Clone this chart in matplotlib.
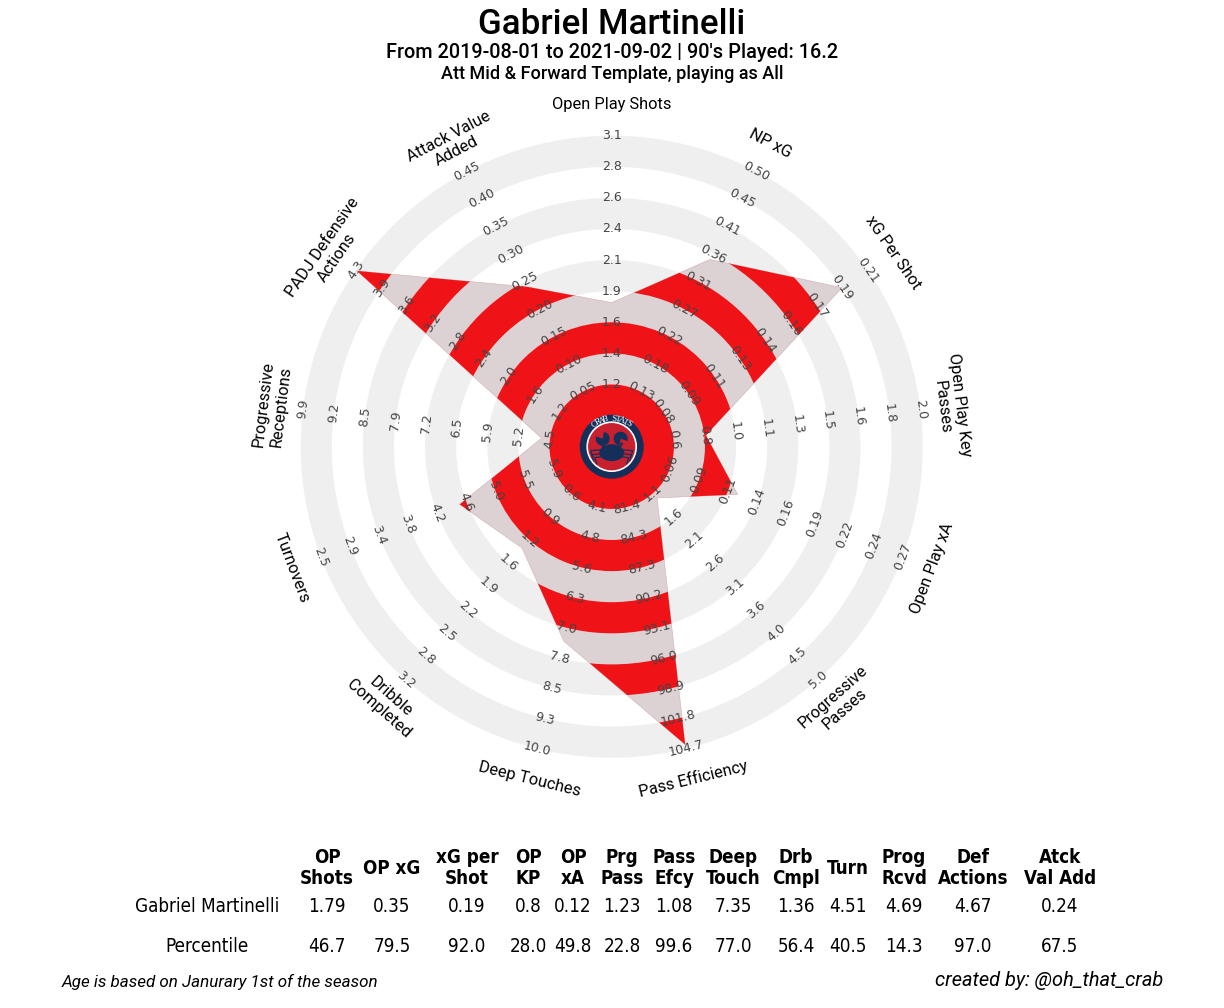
"""Radar chart of one player's per-90 numbers, with a small stats table below."""

import numpy as np
import matplotlib

matplotlib.use("Agg")
import matplotlib.pyplot as plt
from matplotlib.patches import Circle, Ellipse, Polygon, Wedge

plt.rcParams["font.family"] = ["Roboto", "DejaVu Sans"]

PLAYER = "Gabriel Martinelli"
SUBTITLE = "From 2019-08-01 to 2021-09-02 | 90's Played: 16.2"
TEMPLATE = "Att Mid & Forward Template, playing as All"

# clockwise from the top
params = [
    "Open Play Shots", "NP xG", "xG Per Shot", "Open Play Key\nPasses",
    "Open Play xA", "Progressive\nPasses", "Pass Efficiency", "Deep Touches",
    "Dribble\nCompleted", "Turnovers", "Progressive\nReceptions",
    "PADJ Defensive\nActions", "Attack Value\nAdded",
]
ticks = [
    ["1.2", "1.4", "1.6", "1.9", "2.1", "2.4", "2.6", "2.8", "3.1"],
    ["0.13", "0.18", "0.22", "0.27", "0.31", "0.36", "0.41", "0.45", "0.50"],
    ["0.08", "0.09", "0.11", "0.13", "0.14", "0.16", "0.17", "0.19", "0.21"],
    ["0.6", "0.8", "1.0", "1.1", "1.3", "1.5", "1.6", "1.8", "2.0"],
    ["0.06", "0.09", "0.11", "0.14", "0.16", "0.19", "0.22", "0.24", "0.27"],
    ["1.1", "1.6", "2.1", "2.6", "3.1", "3.6", "4.0", "4.5", "5.0"],
    ["81.4", "84.3", "87.3", "90.2", "93.1", "96.0", "98.9", "101.8", "104.7"],
    ["4.1", "4.8", "5.6", "6.3", "7.0", "7.8", "8.5", "9.3", "10.0"],
    ["0.6", "0.9", "1.2", "1.6", "1.9", "2.2", "2.5", "2.8", "3.2"],
    ["5.9", "5.5", "5.0", "4.6", "4.2", "3.8", "3.4", "2.9", "2.5"],
    ["4.5", "5.2", "5.9", "6.5", "7.2", "7.9", "8.5", "9.2", "9.9"],
    ["1.2", "1.6", "2.0", "2.4", "2.8", "3.2", "3.6", "3.9", "4.3"],
    ["0.05", "0.10", "0.15", "0.20", "0.25", "0.30", "0.35", "0.40", "0.45"],
]
# what the shape is drawn at; two of them sit past the top of their scale in the table
radar_values = [1.79, 0.35, 0.19, 0.81, 0.12, 1.2, 104.3, 7.35, 1.34, 4.51, 4.69, 4.28, 0.24]

table_heads = [
    "OP\nShots", "OP xG", "xG per\nShot", "OP\nKP", "OP\nxA", "Prg\nPass",
    "Pass\nEfcy", "Deep\nTouch", "Drb\nCmpl", "Turn", "Prog\nRcvd",
    "Def\nActions", "Atck\nVal Add",
]
table_values = ["1.79", "0.35", "0.19", "0.8", "0.12", "1.23", "1.08", "7.35", "1.36", "4.51", "4.69", "4.67", "0.24"]
table_pcts = ["46.7", "79.5", "92.0", "28.0", "49.8", "22.8", "99.6", "77.0", "56.4", "40.5", "14.3", "97.0", "67.5"]
table_x = [327, 392, 467, 528, 573, 622, 674, 733, 796, 848, 904, 973, 1060]

RED = "#ef1216"
LIGHT = "#dcd1d3"
GREY = "#efefef"
NAVY = "#14305a"
LOGO_RED = "#c8202f"
TICK_COLOR = "#444444"

# ring boundaries, in units of one ring width
ring_edges = np.arange(2, 11)


def value_to_ring(value, labels):
    nums = [float(t) for t in labels]
    if nums[0] > nums[-1]:
        return np.interp(-value, [-n for n in nums], ring_edges)
    return np.interp(value, nums, ring_edges)


def tangent_rotation(angle):
    # keep text readable: flip it over the bottom half
    if 90 < angle < 270:
        return 180 - angle
    return -angle


def draw_logo(ax, s):
    # s is the size of one picture pixel in data units
    ax.add_patch(Circle((0, 0), 32 * s, color=NAVY, lw=0, zorder=6))
    ax.add_patch(Circle((0, 0), 24.5 * s, fc=LOGO_RED, ec="white", lw=1.2, zorder=7))
    for i, ch in enumerate("CRAB STATS"):
        ang = np.radians(-37 + i * 8.2)
        ax.text(28 * s * np.sin(ang), 28 * s * np.cos(ang), ch, color="white",
                fontsize=6.5, family="Liberation Serif",
                rotation=-np.degrees(ang), ha="center", va="center", zorder=8)
    ax.add_patch(Ellipse((0, -6 * s), 25 * s, 17 * s, color=NAVY, lw=0, zorder=8))
    for side in (-1, 1):
        # claw: a disc with a notch facing the middle
        notch = 300 if side == 1 else 120
        ax.add_patch(Wedge((side * 9 * s, 8 * s), 7 * s, notch + 40, notch - 40,
                           color=NAVY, lw=0, zorder=8))
        ax.plot([side * 10 * s, side * 7 * s], [3 * s, -2 * s], color=NAVY, lw=1.6, zorder=8)
        for dy, reach in ((-3, 21), (-7, 20), (-10, 17)):
            ax.plot([side * 10 * s, side * reach * s, side * (reach - 2) * s],
                    [dy * s, (dy - 1) * s, (dy - 7) * s], color=NAVY, lw=0.9, zorder=8)


fig = plt.figure(figsize=(12.24, 10.08), dpi=100)

# radar, equal aspect, one unit is one ring width
ax = fig.add_axes([0, 0, 1, 1])
ax.set_aspect("equal")
ax.axis("off")
unit = 31.1
cx, cy = 611.7, 446.7
ax.set_xlim(-cx / unit, (1224 - cx) / unit)
ax.set_ylim(-(1008 - cy) / unit, cy / unit)

angles = np.arange(len(params)) * 360 / len(params)

# grey rings, then the shape, then the same rings in red clipped to the shape
for inner, outer in zip(ring_edges[1::2], ring_edges[2::2]):
    ax.add_patch(Wedge((0, 0), outer, 0, 360, width=outer - inner, color=GREY, lw=0, zorder=1))

radii = [value_to_ring(v, t) for v, t in zip(radar_values, ticks)]
verts = [(r * np.sin(np.radians(a)), r * np.cos(np.radians(a))) for r, a in zip(radii, angles)]
shape = Polygon(verts, closed=True, fc=LIGHT, ec="#d3aeb1", lw=0.4, zorder=2)
ax.add_patch(shape)
clip = Polygon(verts, closed=True, transform=ax.transData)
center = Circle((0, 0), ring_edges[0], color=RED, lw=0, zorder=3)
ax.add_patch(center)
for inner, outer in zip(ring_edges[1::2], ring_edges[2::2]):
    ring = Wedge((0, 0), outer, 0, 360, width=outer - inner, color=RED, lw=0, zorder=3)
    ax.add_patch(ring)
    ring.set_clip_path(clip)

for angle, labels, name in zip(angles, ticks, params):
    rad = np.radians(angle)
    rot = tangent_rotation(angle)
    for edge, label in zip(ring_edges, labels):
        ax.text(edge * np.sin(rad), edge * np.cos(rad), label, fontsize=9,
                family="DejaVu Sans", color=TICK_COLOR, rotation=rot,
                rotation_mode="anchor", ha="center", va="center", zorder=5)
    ax.text(11.0 * np.sin(rad), 11.0 * np.cos(rad), name, fontsize=11.8,
            color="black", rotation=rot, rotation_mode="anchor",
            ha="center", va="center", zorder=5)

draw_logo(ax, 1 / unit)

# titles and table are placed in pixels
px = fig.add_axes([0, 0, 1, 1])
px.axis("off")
px.set_xlim(0, 1224)
px.set_ylim(1008, 0)
px.patch.set_alpha(0)

px.text(612, 24, PLAYER, fontsize=25.2, fontweight="medium", ha="center", va="center")
px.text(612.5, 52, SUBTITLE, fontsize=14.35, fontweight="medium", ha="center", va="center")
px.text(612, 74, TEMPLATE, fontsize=13, fontweight="medium", ha="center", va="center")

cond = dict(family="DejaVu Sans", stretch="condensed", ha="center", va="center")
for x, head, val, pct in zip(table_x, table_heads, table_values, table_pcts):
    px.text(x, 868, head, fontsize=13.5, fontweight="bold", linespacing=1.1, **cond)
    px.text(x, 906, val, fontsize=13.5, **cond)
    px.text(x, 946, pct, fontsize=13.5, **cond)

px.text(207, 906, PLAYER, fontsize=13.5, **cond)
px.text(207, 946, "Percentile", fontsize=13.5, **cond)
px.text(62, 982, "Age is based on Janurary 1st of the season", fontsize=12.27, style="italic", va="center")
px.text(1163, 981, "created by: @oh_that_crab", fontsize=14.4, style="italic", ha="right", va="center")

fig.savefig("out.png", dpi=100)
